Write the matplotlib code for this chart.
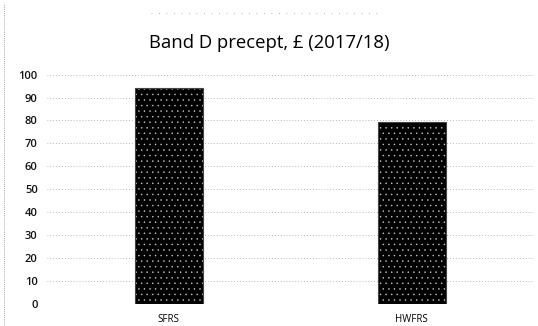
import numpy as np
import matplotlib.pyplot as plt
from matplotlib.lines import Line2D

# Band D precept per authority
services = ['SFRS', 'HWFRS']
precept = [94.3, 79.5]
yticks = [0, 10, 20, 30, 40, 50, 60, 70, 80, 90, 100]

plt.rcParams['font.family'] = ['Open Sans', 'DejaVu Sans']
plt.rcParams['hatch.linewidth'] = 0.3

fig = plt.figure(figsize=(5.38, 3.26), dpi=100)
ax = fig.add_axes([0.088, 0.068, 0.903, 0.703])

x = np.arange(len(services))
# black bars with a fine white stipple
ax.bar(x, precept, width=0.28, color='black', edgecolor='#cccccc', hatch='...', linewidth=0, zorder=3)
ax.bar(x, precept, width=0.28, fill=False, edgecolor='#444444', linewidth=0.8, zorder=4)

ax.set_xlim(-0.5, 1.5)
ax.set_ylim(0, 100)
ax.set_yticks(yticks)
ax.set_xticks(x)
ax.set_xticklabels(services, fontsize=7)
ax.tick_params(axis='y', labelsize=8, length=0, pad=7, labelcolor='#111111')
ax.tick_params(axis='x', length=0, pad=7)
for lbl in ax.get_yticklabels():
    lbl.set_fontweight('semibold')
ax.grid(axis='y', color='#a0a0a0', linestyle=(0, (1, 2.5)), linewidth=0.6, zorder=0)
for s in ax.spines.values():
    s.set_visible(False)

fig.text(0.5, 0.868, 'Band D precept, £ (2017/18)', ha='center', va='center', fontsize=13.3)

# dotted border remnants at left and top
fig.add_artist(Line2D([0.008, 0.008], [0.0, 0.99], transform=fig.transFigure,
                      color='#888888', linestyle=(0, (1, 1.5)), linewidth=0.6))
fig.add_artist(Line2D([0.28, 0.71], [0.96, 0.96], transform=fig.transFigure,
                      color='#999999', linestyle=(0, (1, 8)), linewidth=0.6))

fig.savefig('out.png', dpi=100, facecolor='white')
